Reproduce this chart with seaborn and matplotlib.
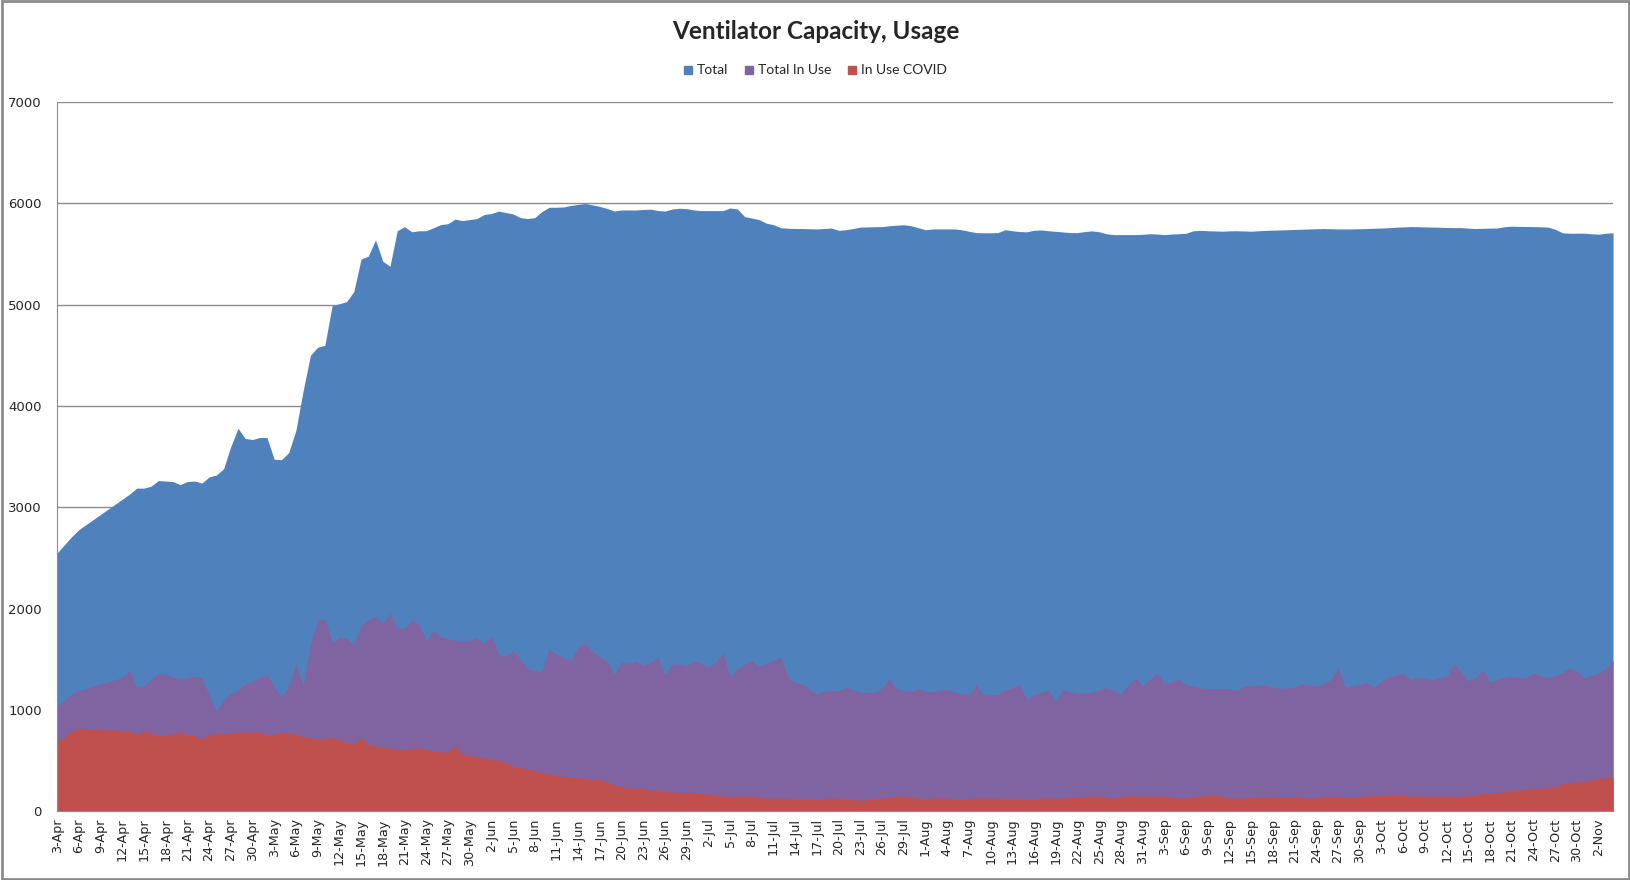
import pandas as pd
import matplotlib.pyplot as plt
import seaborn as sns
from matplotlib.lines import Line2D
from matplotlib.patches import Rectangle

# daily values, 3-Apr to 4-Nov
start_date = "2020-04-03"

total = [
    2550, 2630, 2710, 2780, 2830, 2880, 2930, 2980, 3030, 3080,
    3130, 3190, 3190, 3210, 3265, 3260, 3255, 3225, 3255, 3260,
    3240, 3300, 3320, 3380, 3600, 3780, 3680, 3670, 3690, 3690,
    3475, 3470, 3540, 3760, 4150, 4500, 4580, 4600, 4990, 5010,
    5030, 5130, 5450, 5480, 5640, 5430, 5380, 5730, 5770, 5720,
    5730, 5730, 5760, 5790, 5800, 5845, 5830, 5840, 5850, 5890,
    5900, 5924, 5910, 5896, 5860, 5850, 5860, 5920, 5962, 5962,
    5965, 5980, 5990, 6000, 5985, 5970, 5950, 5925, 5935, 5935,
    5935, 5940, 5943, 5930, 5924, 5945, 5952, 5948, 5935, 5929,
    5929, 5929, 5929, 5955, 5945, 5870, 5855, 5840, 5805, 5790,
    5760, 5755, 5752, 5752, 5750, 5748, 5752, 5757, 5734, 5740,
    5752, 5766, 5768, 5770, 5771, 5780, 5785, 5789, 5780, 5760,
    5740, 5748, 5748, 5748, 5748, 5740, 5725, 5712, 5710, 5710,
    5712, 5740, 5730, 5722, 5720, 5735, 5738, 5730, 5724, 5718,
    5712, 5712, 5722, 5729, 5720, 5700, 5692, 5692, 5692, 5692,
    5695, 5701, 5698, 5692, 5698, 5701, 5705, 5730, 5734, 5730,
    5728, 5726, 5729, 5730, 5728, 5726, 5730, 5734, 5736, 5738,
    5740, 5743, 5745, 5748, 5750, 5752, 5750, 5748, 5748, 5748,
    5750, 5752, 5755, 5757, 5760, 5765, 5768, 5771, 5770, 5768,
    5766, 5765, 5762, 5761, 5761, 5756, 5752, 5754, 5756, 5757,
    5770, 5775, 5773, 5772, 5771, 5769, 5766, 5745, 5710, 5706,
    5706, 5706, 5700, 5696, 5705, 5710,
]

total_in_use = [
    1039, 1090, 1160, 1190, 1210, 1235, 1258, 1275, 1300, 1320,
    1390, 1225, 1239, 1300, 1360, 1350, 1327, 1304, 1320, 1335,
    1318, 1150, 992, 1100, 1165, 1200, 1258, 1286, 1320, 1351,
    1225, 1132, 1225, 1458, 1240, 1650, 1880, 1900, 1670, 1720,
    1705, 1644, 1830, 1890, 1924, 1854, 1956, 1807, 1807, 1891,
    1844, 1691, 1784, 1723, 1705, 1690, 1677, 1686, 1714, 1658,
    1723, 1551, 1528, 1584, 1504, 1411, 1388, 1379, 1598, 1551,
    1520, 1481, 1630, 1658, 1574, 1528, 1481, 1355, 1472, 1458,
    1481, 1444, 1472, 1518, 1341, 1458, 1450, 1435, 1490, 1460,
    1425, 1472, 1565, 1327, 1411, 1450, 1490, 1425, 1458, 1490,
    1518, 1318, 1267, 1258, 1200, 1155, 1188, 1190, 1192, 1225,
    1200, 1174, 1174, 1174, 1220, 1304, 1211, 1192, 1183, 1211,
    1192, 1178, 1195, 1202, 1178, 1160, 1150, 1248, 1146, 1150,
    1155, 1202, 1220, 1258, 1099, 1155, 1180, 1192, 1090, 1202,
    1180, 1164, 1170, 1174, 1200, 1220, 1190, 1155, 1250, 1318,
    1239, 1300, 1365, 1258, 1280, 1304, 1248, 1235, 1220, 1211,
    1211, 1215, 1211, 1192, 1234, 1240, 1245, 1248, 1225, 1211,
    1220, 1225, 1258, 1245, 1239, 1260, 1300, 1416, 1225, 1239,
    1255, 1272, 1225, 1286, 1332, 1340, 1365, 1304, 1318, 1310,
    1295, 1320, 1332, 1458, 1379, 1286, 1318, 1397, 1272, 1300,
    1318, 1332, 1320, 1318, 1365, 1340, 1318, 1341, 1370, 1411,
    1379, 1318, 1345, 1365, 1411, 1490,
]

in_use_covid = [
    689, 727, 790, 820, 815, 810, 806, 803, 801, 795,
    792, 755, 797, 770, 745, 750, 765, 783, 750, 750,
    713, 759, 765, 769, 773, 778, 783, 783, 783, 750,
    760, 783, 770, 759, 736, 725, 713, 720, 727, 705,
    680, 660, 727, 661, 645, 633, 625, 615, 610, 620,
    629, 610, 592, 588, 582, 643, 560, 550, 540, 525,
    512, 503, 480, 447, 430, 419, 400, 382, 370, 354,
    347, 340, 330, 325, 317, 317, 285, 260, 245, 233,
    228, 224, 210, 200, 196, 190, 186, 186, 186, 180,
    168, 160, 155, 149, 149, 149, 149, 140, 130, 130,
    130, 130, 125, 121, 121, 121, 125, 130, 130, 125,
    115, 107, 115, 125, 130, 140, 149, 149, 140, 130,
    116, 130, 130, 130, 125, 121, 125, 130, 130, 130,
    130, 125, 121, 121, 121, 125, 130, 130, 130, 130,
    140, 144, 147, 149, 149, 140, 130, 145, 154, 150,
    149, 149, 149, 149, 140, 130, 135, 140, 150, 158,
    163, 145, 130, 133, 136, 138, 140, 140, 142, 145,
    147, 149, 140, 130, 137, 144, 144, 145, 147, 148,
    149, 151, 153, 155, 157, 158, 155, 152, 150, 149,
    149, 149, 149, 149, 149, 155, 165, 177, 182, 186,
    192, 200, 210, 220, 226, 230, 233, 245, 270, 285,
    290, 293, 310, 326, 333, 340,
]

series_names = ["Total", "Total In Use", "In Use COVID"]
colors = ["#4F81BD", "#8064A2", "#C0504D"]

dates = pd.date_range(start_date, periods=len(total), freq="D")
df = pd.DataFrame({"Total": total, "Total In Use": total_in_use,
                   "In Use COVID": in_use_covid}, index=dates)
date_labels = [f"{d.day}-{d.strftime('%b')}" for d in df.index]

sns.set_style("white")
plt.rcParams["font.family"] = ["DejaVu Sans"]

fig = plt.figure(figsize=(16.31, 8.8), dpi=100)
ax = fig.add_axes([0.035, 0.078, 0.954, 0.806])

x = list(range(len(df)))
for name, color in zip(series_names, colors):
    ax.fill_between(x, 0, df[name].values, color=color, linewidth=0, zorder=2)

ax.set_xlim(0, len(df) - 1)
ax.set_ylim(0, 7000)
ax.set_yticks(range(0, 7001, 1000))
ax.yaxis.grid(True, color="#8c8c8c", linewidth=1)
ax.set_axisbelow(True)
ax.set_xticks(x[::3])
ax.set_xticklabels(date_labels[::3], rotation=90, fontsize=9.2)
ax.tick_params(axis="y", labelsize=9.5, length=0, pad=11)
ax.tick_params(axis="x", length=0, pad=5)

sns.despine(ax=ax, top=True, right=True)
ax.spines["left"].set_color("#8c8c8c")
ax.spines["bottom"].set_color("#8c8c8c")

fig.text(0.5, 0.964, "Ventilator Capacity, Usage", ha="center", va="center",
         fontsize=17.5, fontweight="bold", family=["Lato", "DejaVu Sans"])

handles = [Line2D([], [], marker="s", linestyle="none", markersize=5.5,
                  color=c) for c in colors]
fig.legend(handles, series_names, loc="center", bbox_to_anchor=(0.5, 0.92),
           ncol=3, frameon=False, handlelength=0.6, handletextpad=0.35,
           columnspacing=1.2,
           prop={"family": ["Lato", "DejaVu Sans"], "size": 10})

fig.patches.append(Rectangle((0.001, 0.001), 0.998, 0.998, transform=fig.transFigure,
                             fill=False, edgecolor="#8c8c8c", linewidth=2))

fig.savefig("out.png", dpi=100)
